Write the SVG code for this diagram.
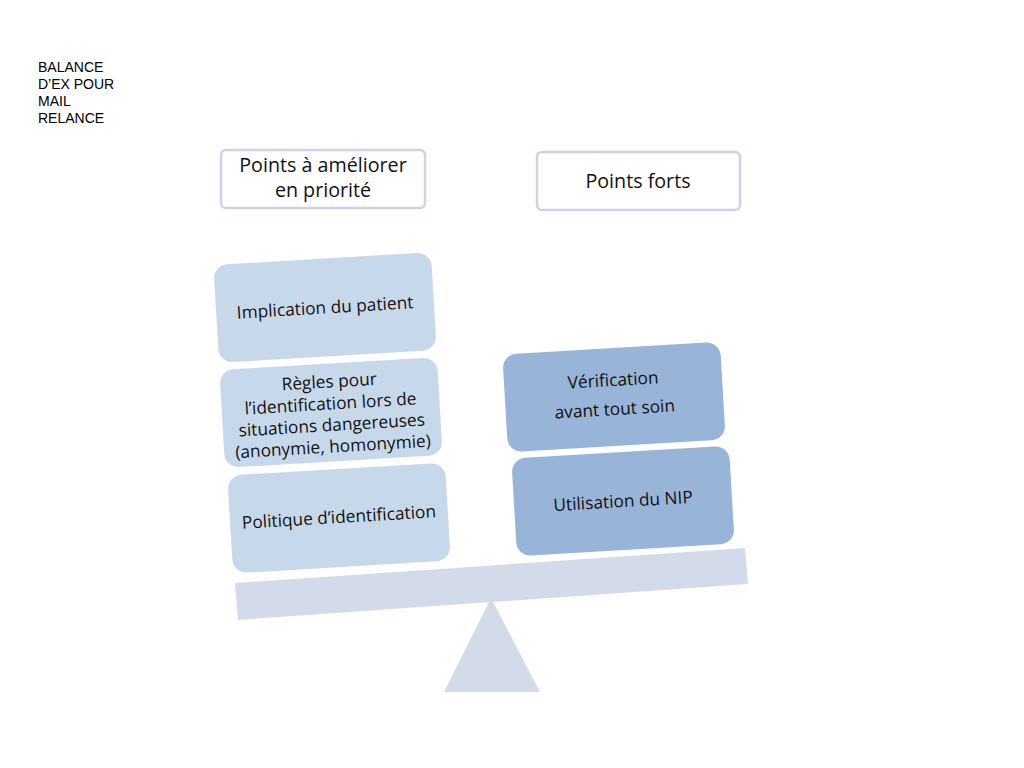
<svg xmlns="http://www.w3.org/2000/svg" width="1024" height="768" viewBox="0 0 1024 768">
<style>
.note{font-family:"Liberation Sans",Arial,sans-serif;font-size:14px;fill:#000}
.hdr{fill:#fff;stroke:#cbd3e4;stroke-width:2.5}
.ht{font-family:"Open Sans","Noto Sans",sans-serif;font-size:19.7px;fill:#111;text-anchor:middle}
.lb{fill:#c8d8eb}
.db{fill:#98b4d8}
.bt{font-family:"Open Sans","Noto Sans",sans-serif;font-size:17.3px;fill:#111;text-anchor:middle}
.sc{fill:#d3dbea}
</style>
<rect width="1024" height="768" fill="#fff"/>
<g id="note">
<text class="note" x="38" y="72">BALANCE</text>
<text class="note" x="38" y="89">D’EX POUR</text>
<text class="note" x="38" y="106">MAIL</text>
<text class="note" x="38" y="123">RELANCE</text>
</g>
<g id="scale">
<polygon class="sc" points="491,598 540,692 444,692"/>
<polygon class="sc" points="235,583 745,548 748,584 238,620"/>
</g>
<g id="hdr-left">
<rect class="hdr" x="221" y="150" width="204" height="58" rx="5"/>
<text class="ht" x="323" y="172">Points à améliorer</text>
<text class="ht" x="323" y="197">en priorité</text>
</g>
<g id="hdr-right">
<rect class="hdr" x="537" y="152" width="203" height="58" rx="5"/>
<text class="ht" x="638" y="188">Points forts</text>
</g>
<g id="box-implication" transform="translate(325,307.5) rotate(-3.4)">
<rect class="lb" x="-109" y="-49" width="218" height="98" rx="14"/>
<text class="bt" x="0" y="6">Implication du patient</text>
</g>
<g id="box-regles" transform="translate(331,412.5) rotate(-3.4)">
<rect class="lb" x="-109" y="-49" width="218" height="98" rx="14"/>
<text class="bt" x="0" y="-25">Règles pour</text>
<text class="bt" x="0" y="-3">l’identification lors de</text>
<text class="bt" x="0" y="18.5">situations dangereuses</text>
<text class="bt" x="0" y="40">(anonymie, homonymie)</text>
</g>
<g id="box-politique" transform="translate(339,518) rotate(-3.4)">
<rect class="lb" x="-109" y="-49" width="218" height="98" rx="14"/>
<text class="bt" x="0" y="5">Politique d’identification</text>
</g>
<g id="box-verification" transform="translate(614,397) rotate(-3.4)">
<rect class="db" x="-109" y="-49" width="218" height="98" rx="14"/>
<text class="bt" x="0" y="-11">Vérification</text>
<text class="bt" x="0" y="18">avant tout soin</text>
</g>
<g id="box-nip" transform="translate(623,501) rotate(-3.4)">
<rect class="db" x="-109" y="-49" width="218" height="98" rx="14"/>
<text class="bt" x="0" y="6">Utilisation du NIP</text>
</g>
<g id="connectors"/>
</svg>
